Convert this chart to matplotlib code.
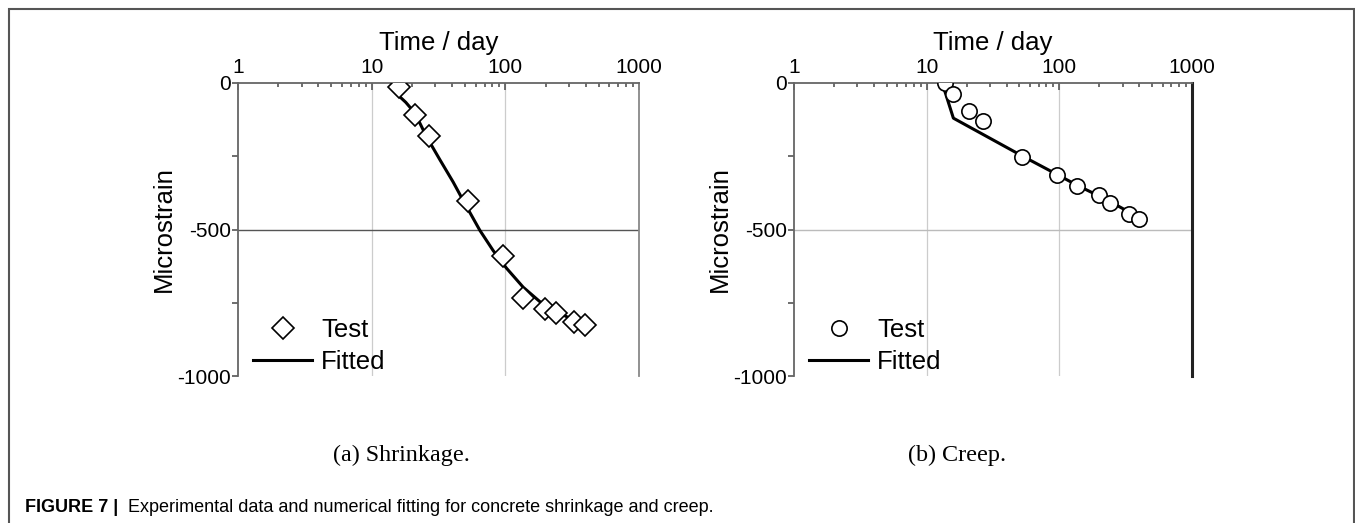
import matplotlib
matplotlib.use("Agg")
import matplotlib.pyplot as plt
from matplotlib.patches import Rectangle
from matplotlib.ticker import LogLocator, FixedLocator, NullFormatter

# Shrinkage test data and fitted curve
shrink_t = [16, 21, 27, 53, 96, 136, 198, 240, 328, 394]
shrink_v = [-14, -108, -180, -402, -592, -735, -772, -786, -814, -826]
shrink_fit_t = [15.3, 18, 20.4, 23, 25.7, 32.4, 40.7, 48.9, 64.5, 81.1, 102, 136, 181, 242, 322, 394]
shrink_fit_v = [-36, -66, -95, -138, -183, -262, -338, -405, -503, -572, -632, -697, -746, -780, -809, -829]

# Creep test data and fitted curve
creep_t = [13.7, 15.9, 20.9, 26.7, 52.7, 95.7, 135.5, 200, 242, 337, 400]
creep_v = [0, -38, -97, -128, -251, -314, -352, -381, -408, -446, -465]
creep_fit_t = [13.1, 15.9, 53, 96, 136, 200, 242, 337, 408]
creep_fit_v = [0, -120, -250, -312, -349, -386, -405, -441, -470]

x_ticks = [1, 10, 100, 1000]
x_labels = ["1", "10", "100", "1000"]
y_ticks = [0, -500, -1000]
y_labels = ["0", "-500", "-1000"]

plt.rcParams['font.family'] = ['Liberation Sans', 'DejaVu Sans']

fig = plt.figure(figsize=(13.55, 5.23), dpi=100)

ax1 = fig.add_axes([238 / 1355, 1 - 376 / 523, 401 / 1355, 293 / 523])
ax2 = fig.add_axes([794 / 1355, 1 - 376 / 523, 398 / 1355, 293 / 523])


def style_axes(ax, hline_color, right_color, right_lw):
    ax.set_xscale('log')
    ax.set_xlim(1, 1000)
    ax.set_ylim(-1000, 0)
    ax.xaxis.tick_top()
    ax.xaxis.set_label_position('top')
    ax.set_xticks(x_ticks)
    ax.set_xticklabels(x_labels)
    ax.xaxis.set_minor_locator(LogLocator(base=10, subs=range(2, 10)))
    ax.xaxis.set_minor_formatter(NullFormatter())
    ax.set_yticks(y_ticks)
    ax.set_yticklabels(y_labels)
    ax.yaxis.set_minor_locator(FixedLocator([-250, -750]))
    ax.tick_params(axis='x', which='major', direction='in', length=5, width=1.2,
                   color='#555555', labelsize=15, pad=4)
    ax.tick_params(axis='x', which='minor', direction='in', length=3, width=1.2,
                   color='#555555')
    ax.tick_params(axis='y', which='both', direction='out', length=4, width=1.2,
                   color='#555555', labelsize=15, pad=1)
    ax.spines['bottom'].set_visible(False)
    for s in ['top', 'left']:
        ax.spines[s].set_color('#666666')
        ax.spines[s].set_linewidth(1.3)
    ax.spines['right'].set_color(right_color)
    ax.spines['right'].set_linewidth(right_lw)
    for xv in [10, 100]:
        ax.axvline(xv, color='#cccccc', lw=0.9, zorder=0)
    ax.axhline(-500, color=hline_color, lw=1.0, zorder=0)
    ax.set_xlabel("Time / day", fontsize=18.5, labelpad=6)
    ax.set_ylabel("Microstrain", fontsize=18.5, labelpad=1)


style_axes(ax1, '#555555', '#888888', 1.3)
style_axes(ax2, '#bbbbbb', '#222222', 2.2)

ax1.plot(shrink_t, shrink_v, linestyle='none', marker='D', markersize=11,
         markerfacecolor='white', markeredgecolor='black', markeredgewidth=1.2,
         label='Test', zorder=3)
ax1.plot(shrink_fit_t, shrink_fit_v, color='black', lw=2.2, label='Fitted', zorder=2)

ax2.plot(creep_t, creep_v, linestyle='none', marker='o', markersize=11,
         markerfacecolor='white', markeredgecolor='black', markeredgewidth=1.2,
         label='Test', zorder=3)
ax2.plot(creep_fit_t, creep_fit_v, color='black', lw=2.2, label='Fitted', zorder=2)

for ax in (ax1, ax2):
    ax.legend(loc='lower left', bbox_to_anchor=(0.025, -0.01), frameon=False,
              fontsize=18.5, handlelength=2.3, handletextpad=0.35,
              labelspacing=0.3, borderpad=0.2, borderaxespad=0)

fig.text(401 / 1355, 1 - 455 / 523, "(a) Shrinkage.", ha='center', va='center',
         fontsize=17.4, family='Liberation Serif')
fig.text(957 / 1355, 1 - 455 / 523, "(b) Creep.", ha='center', va='center',
         fontsize=17.4, family='Liberation Serif')
fig.text(25 / 1355, 1 - 507 / 523, "FIGURE 7 |", ha='left', va='center',
         fontsize=13, fontweight='bold')
fig.text(128 / 1355, 1 - 507 / 523,
         "Experimental data and numerical fitting for concrete shrinkage and creep.",
         ha='left', va='center', fontsize=13)

# outer frame of the figure panel
fig.patches.append(Rectangle((9 / 1355, -0.1), (1354 - 9) / 1355, 1.1 - 8.5 / 523,
                             transform=fig.transFigure, fill=False,
                             edgecolor='#555555', lw=1.5, clip_on=False))

fig.savefig("out.png", dpi=100)
